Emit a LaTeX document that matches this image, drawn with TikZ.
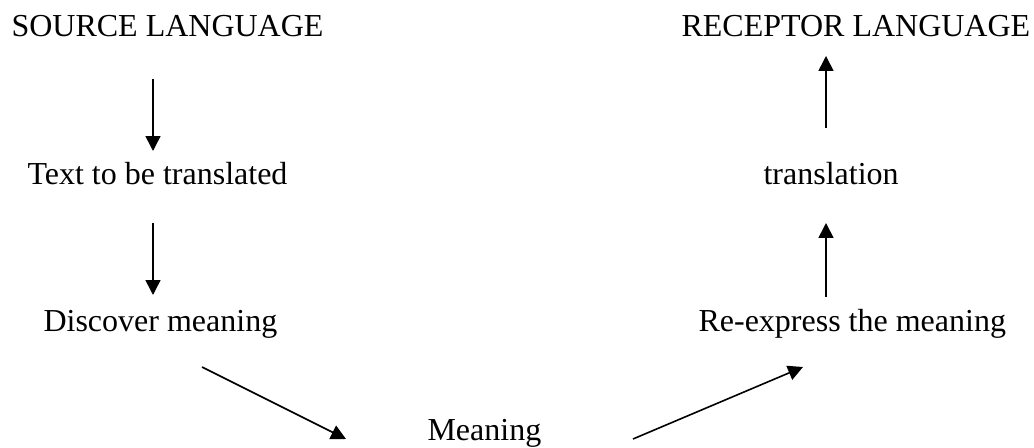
\documentclass[tikz,border=0pt]{standalone}
\usepackage{fontspec}
\setmainfont{Liberation Serif}
\usetikzlibrary{arrows.meta,calc}
\begin{document}
\begin{tikzpicture}[x=0.375pt,y=-0.375pt,
  lbl/.style={inner sep=0pt, anchor=base west, font=\fontsize{12}{14}\selectfont},
  arr/.style={line width=0.6pt, -{Triangle[length=5.6pt,width=5.6pt]}}]
\useasboundingbox (0,0) rectangle (1034,448);
\node[lbl] (src) at (11,37) {SOURCE LANGUAGE};
\node[lbl] (rec) at (681,37) {RECEPTOR LANGUAGE};
\node[lbl] (txt) at (27,185) {Text to be translated};
\node[lbl] (trn) at (763,185) {translation};
\node[lbl] (dis) at (43,332) {Discover meaning};
\node[lbl] (rex) at (698,332) {Re-express the meaning};
\node[lbl] (mea) at (427,440) {Meaning};
\draw[arr] ($(src.base west)+(142,42)$) -- ($(txt.base west)+(126,-34)$);
\draw[arr] ($(txt.base west)+(126,38)$) -- ($(dis.base west)+(110,-37)$);
\draw[arr] ($(dis.base west)+(159,35)$) -- ($(mea.base west)+(-81,-1)$);
\draw[arr] ($(mea.base west)+(206,-1)$) -- ($(rex.base west)+(105,35)$);
\draw[arr] ($(rex.base west)+(128,-35)$) -- ($(trn.base west)+(63,38)$);
\draw[arr] ($(trn.base west)+(63,-57)$) -- ($(rec.base west)+(145,19)$);
\end{tikzpicture}
\end{document}
